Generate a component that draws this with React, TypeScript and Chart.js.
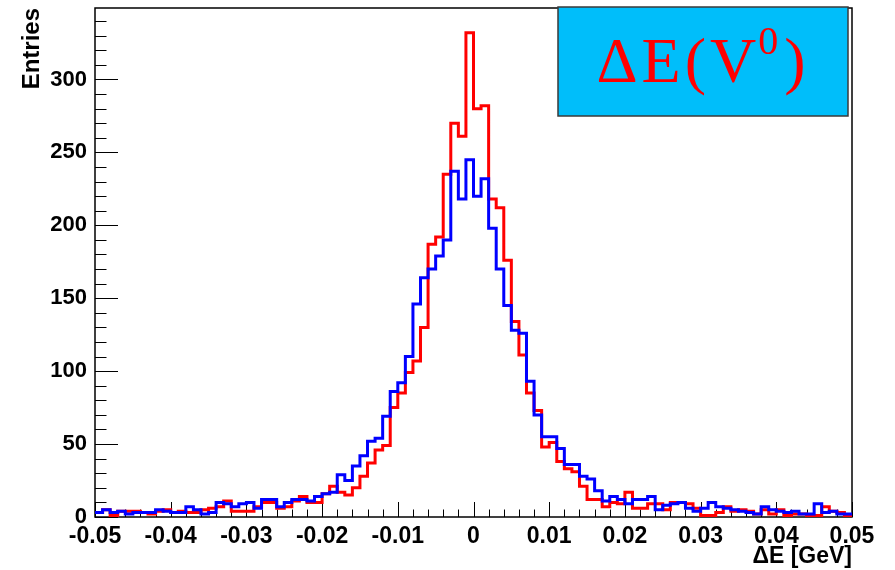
import React, { useEffect, useRef } from "react";
import { Chart, registerables } from "chart.js";

Chart.register(...registerables);

// ---- data ----
const X_MIN = -0.05;
const X_MAX = 0.05;
const BIN_WIDTH = 0.001;

const RED_COUNTS = [
  3, 5, 1, 4, 4, 4, 3, 2, 4, 5,
  3, 4, 3, 3, 5, 6, 7, 11, 4, 4,
  4, 7, 10, 10, 6, 7, 11, 14, 10, 10,
  16, 21, 17, 15, 20, 28, 37, 46, 49, 75,
  85, 99, 107, 130, 187, 192, 235, 270, 261, 332,
  280, 282, 218, 212, 176, 134, 111, 85, 73, 48,
  51, 38, 33, 31, 21, 12, 12, 7, 10, 9,
  17, 6, 6, 9, 9, 5, 10, 10, 9, 6,
  1, 1, 3, 7, 4, 5, 4, 2, 5, 2,
  5, 1, 2, 2, 1, 1, 7, 4, 3, 1,
];

const BLUE_COUNTS = [
  3, 5, 3, 4, 2, 3, 3, 3, 5, 4,
  3, 3, 7, 5, 2, 3, 10, 9, 7, 9,
  10, 6, 12, 12, 7, 10, 12, 12, 11, 14,
  16, 17, 29, 25, 35, 42, 52, 54, 69, 86,
  92, 110, 146, 164, 170, 179, 190, 237, 218, 245,
  220, 232, 198, 170, 145, 128, 126, 93, 70, 55,
  55, 47, 36, 36, 28, 26, 18, 11, 14, 12,
  9, 12, 12, 14, 5, 8, 9, 10, 6, 4,
  6, 10, 7, 6, 5, 4, 3, 2, 7, 5,
  4, 3, 4, 2, 2, 9, 3, 4, 2, 2,
];

const X_TICKS = [-0.05, -0.04, -0.03, -0.02, -0.01, 0, 0.01, 0.02, 0.03, 0.04, 0.05];
const X_TICK_LABELS = ["-0.05", "-0.04", "-0.03", "-0.02", "-0.01", "0", "0.01", "0.02", "0.03", "0.04", "0.05"];
const X_MINOR_STEP = 0.002;

const Y_TICKS = [0, 50, 100, 150, 200, 250, 300];
const Y_TICK_LABELS = ["0", "50", "100", "150", "200", "250", "300"];
const Y_MAX = 349;
const Y_MINOR_STEP = 10;

const X_TITLE = "ΔE [GeV]";
const Y_TITLE = "Entries";
const PAVE_MAIN = "ΔE(V";
const PAVE_SUP = "0";
const PAVE_END = ")";

const SANS = "'Liberation Sans', Arial, Helvetica, sans-serif";
const SERIF = "'Liberation Serif', 'Times New Roman', serif";

function toSteps(counts: number[]) {
  const pts = counts.map((v, i) => ({ x: +(X_MIN + i * BIN_WIDTH).toFixed(6), y: v }));
  pts.push({ x: +(X_MIN + counts.length * BIN_WIDTH).toFixed(6), y: counts[counts.length - 1] });
  return pts;
}

const framePlugin = {
  id: "rootFrame",
  beforeDatasetsDraw(chart: any) {
    const { ctx, chartArea: a, scales } = chart;
    const x = scales.x;
    const y = scales.y;
    ctx.save();
    ctx.strokeStyle = "#000";
    ctx.lineWidth = 1.5;
    ctx.strokeRect(a.left, a.top, a.right - a.left, a.bottom - a.top);
    ctx.lineWidth = 1;
    for (let v = 0; v <= Y_MAX; v += Y_MINOR_STEP) {
      const py = Math.round(y.getPixelForValue(v)) + 0.5;
      const len = Y_TICKS.includes(v) ? 23 : 11.5;
      ctx.beginPath();
      ctx.moveTo(a.left, py);
      ctx.lineTo(a.left + len, py);
      ctx.stroke();
    }
    const n = Math.round((X_MAX - X_MIN) / X_MINOR_STEP);
    for (let i = 0; i <= n; i++) {
      const v = X_MIN + i * X_MINOR_STEP;
      const px = Math.round(x.getPixelForValue(v)) + 0.5;
      const len = i % 5 === 0 ? 15 : 7.5;
      ctx.beginPath();
      ctx.moveTo(px, a.bottom);
      ctx.lineTo(px, a.bottom - len);
      ctx.stroke();
    }
    ctx.restore();
  },
};

const pavePlugin = {
  id: "rootPave",
  afterDatasetsDraw(chart: any) {
    const { ctx } = chart;
    const x1 = 558, y1 = 7, x2 = 848, y2 = 116;
    ctx.save();
    ctx.fillStyle = "rgb(0,190,250)";
    ctx.fillRect(x1, y1, x2 - x1, y2 - y1);
    ctx.strokeStyle = "#3a3a3a";
    ctx.lineWidth = 1.5;
    ctx.strokeRect(x1, y1, x2 - x1, y2 - y1);
    ctx.fillStyle = "#ff0000";
    ctx.textBaseline = "alphabetic";
    ctx.textAlign = "left";
    (ctx as any).letterSpacing = "4px";
    const mainFont = `64px ${SERIF}`;
    const supFont = `40px ${SERIF}`;
    ctx.font = mainFont;
    const wMain = ctx.measureText(PAVE_MAIN).width;
    const wEnd = ctx.measureText(PAVE_END).width;
    ctx.font = supFont;
    const wSup = ctx.measureText(PAVE_SUP).width;
    const total = wMain + wSup + wEnd;
    let cx = (x1 + x2) / 2 - total / 2;
    const base = 82;
    ctx.font = mainFont;
    ctx.fillText(PAVE_MAIN, cx, base);
    cx += wMain;
    ctx.font = supFont;
    ctx.fillText(PAVE_SUP, cx - 2, base - 28);
    cx += wSup;
    ctx.font = mainFont;
    ctx.fillText(PAVE_END, cx, base);
    ctx.restore();
  },
};

export default function App() {
  const ref = useRef<HTMLCanvasElement>(null);
  useEffect(() => {
    const canvas = ref.current;
    if (!canvas) return;
    const chart = new Chart(canvas, {
      type: "line",
      data: {
        datasets: [
          {
            label: "blue",
            data: toSteps(BLUE_COUNTS),
            borderColor: "#0000ff",
            borderWidth: 3,
            stepped: "before",
            pointRadius: 0,
            fill: false,
            order: 0,
          },
          {
            label: "red",
            data: toSteps(RED_COUNTS),
            borderColor: "#ff0000",
            borderWidth: 3,
            stepped: "before",
            pointRadius: 0,
            fill: false,
            order: 1,
          },
        ],
      },
      options: {
        animation: false,
        responsive: false,
        layout: { padding: { top: 8, right: 43, left: 0, bottom: 0 } },
        plugins: { legend: { display: false }, tooltip: { enabled: false } },
        scales: {
          x: {
            type: "linear",
            min: X_MIN,
            max: X_MAX,
            afterBuildTicks: (s: any) => {
              s.ticks = X_TICKS.map((v) => ({ value: v }));
            },
            afterFit: (s: any) => {
              s.height = 53;
              s.paddingLeft = 0;
              s.paddingRight = 0;
            },
            grid: { display: false, drawTicks: false },
            border: { display: false },
            ticks: {
              autoSkip: false,
              maxRotation: 0,
              minRotation: 0,
              padding: 6,
              color: "#000",
              font: { family: SANS, size: 23, weight: "bold" },
              callback: (_v: any, i: number) => X_TICK_LABELS[i],
            },
            title: {
              display: true,
              text: X_TITLE,
              align: "end",
              color: "#000",
              font: { family: SANS, size: 23, weight: "bold" },
              padding: { top: 0, bottom: 0 },
            },
          },
          y: {
            type: "linear",
            min: 0,
            max: Y_MAX,
            afterBuildTicks: (s: any) => {
              s.ticks = Y_TICKS.map((v) => ({ value: v }));
            },
            afterFit: (s: any) => {
              s.width = 95;
              s.paddingTop = 0;
              s.paddingBottom = 0;
            },
            grid: { display: false, drawTicks: false },
            border: { display: false },
            ticks: {
              padding: 8,
              color: "#000",
              font: { family: SANS, size: 22, weight: "bold" },
              callback: (_v: any, i: number) => Y_TICK_LABELS[i],
            },
            title: {
              display: true,
              text: Y_TITLE,
              align: "end",
              color: "#000",
              font: { family: SANS, size: 24, weight: "bold" },
              padding: { top: 18, bottom: 0 },
            },
          },
        },
      },
      plugins: [framePlugin, pavePlugin],
    } as any);
    return () => chart.destroy();
  }, []);
  return (
    <div style={{ position: "absolute", left: 0, top: 0, width: 895, height: 570 }}>
      <canvas ref={ref} width={895} height={570} style={{ display: "block" }} />
    </div>
  );
}
